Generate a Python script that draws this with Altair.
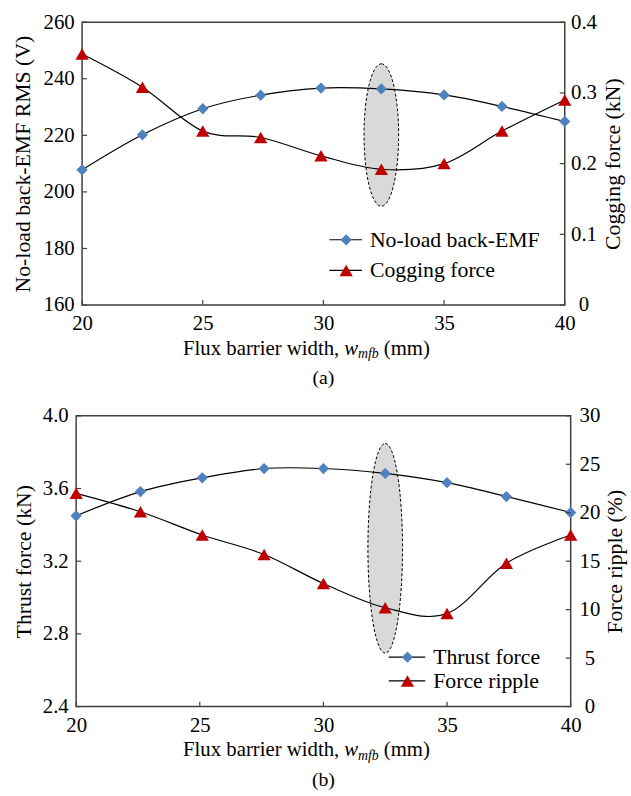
import altair as alt
import pandas as pd

# ---------------- data ----------------
x_a = [20, 22.5, 25, 27.4, 29.9, 32.4, 35, 37.4, 40]
emf = [207.8, 220.2, 229.4, 234.2, 236.7, 236.4, 234.3, 230.2, 224.9]
cogging = [0.355, 0.308, 0.246, 0.237, 0.211, 0.192, 0.200, 0.246, 0.290]

x_b = [20, 22.6, 25.1, 27.6, 30, 32.5, 35, 37.4, 40]
thrust = [3.450, 3.583, 3.659, 3.710, 3.710, 3.683, 3.632, 3.556, 3.468]
ripple = [22.0, 20.1, 17.7, 15.7, 12.7, 10.2, 9.6, 14.8, 17.7]

x_ticks = [20, 25, 30, 35, 40]
emf_ticks = [160, 180, 200, 220, 240, 260]
cog_ticks = [0, 0.1, 0.2, 0.3, 0.4]
thrust_ticks = [2.4, 2.8, 3.2, 3.6, 4.0]
ripple_ticks = [0, 5, 10, 15, 20, 25, 30]

names_a = ["No-load back-EMF", "Cogging force"]
names_b = ["Thrust force", "Force ripple"]
titles_a = ["No-load back-EMF RMS (V)", "Cogging force (kN)"]
titles_b = ["Thrust force (kN)", "Force ripple (%)"]
xtitle_parts = ["Flux barrier width,", "w", "mfb", "(mm)"]
tags = ["(a)", "(b)"]

# highlighted region (ellipse centre, data units)
ell_a = [32.4, 220.1]
ell_b = [32.5, 3.271]

# ---------------- style ----------------
FONT = "Liberation Serif"
BLUE = "#4F81BD"
RED = "#C00000"
AXC = "#404040"
one = pd.DataFrame({"k": [0]})


def ellipse_path(a):
    k = 0.5523
    return (f"M0,-1 C{k*a:.4f},-1 {a:.4f},{-k:.4f} {a:.4f},0 "
            f"C{a:.4f},{k:.4f} {k*a:.4f},1 0,1 "
            f"C{-k*a:.4f},1 {-a:.4f},{k:.4f} {-a:.4f},0 "
            f"C{-a:.4f},{-k:.4f} {-k*a:.4f},-1 0,-1 Z")


def txt(x, y, s, size=21, align="left", style="normal", baseline="alphabetic"):
    return alt.Chart(one).mark_text(
        font=FONT, fontSize=size, align=align, baseline=baseline,
        fontStyle=style, color="black"
    ).encode(x=alt.value(x), y=alt.value(y), text=alt.value(s))


def panel(xs, lv, rv, ldom, rdom, lt, rt, lfmt, rfmt, titles, names, ell,
          ell_w, ell_h, W, H, tag, leg, ltx, rtx, xw):
    df = pd.DataFrame({"x": xs, "L": lv, "R": rv})
    xs_ = alt.Scale(domain=[20, 40], nice=False, zero=False)
    ls = alt.Scale(domain=ldom, nice=False, zero=False)
    rs = alt.Scale(domain=rdom, nice=False, zero=False)
    Xn = alt.X("x:Q", scale=xs_)

    x_axis = alt.Axis(values=x_ticks, title=None, labelPadding=8, labelFlush=False, format="d")
    l_axis = alt.Axis(values=lt, format=lfmt, title=titles[0], labelPadding=8,
                      titleAngle=270, titleX=ltx, titleY=H / 2, titleAlign="center",
                      titleBaseline="middle")
    r_axis = alt.Axis(orient="right", values=rt, format=rfmt, title=titles[1],
                      labelAlign="center", labelPadding=19,
                      titleAngle=270, titleX=rtx, titleY=H / 2, titleAlign="center",
                      titleBaseline="middle")

    base = alt.Chart(df)
    ell_df = pd.DataFrame({"x": [ell[0]], "L": [ell[1]]})
    ellipse = alt.Chart(ell_df).mark_point(
        shape=ellipse_path(ell_w / ell_h), size=ell_h ** 2, filled=True,
        fill="#d9d9d9", stroke="black", strokeWidth=1, strokeDash=[3, 2], opacity=1
    ).encode(x=alt.X("x:Q", scale=xs_, axis=x_axis),
             y=alt.Y("L:Q", scale=ls, axis=l_axis))

    l_line = base.mark_line(color="black", strokeWidth=1.2, interpolate="cardinal").encode(
        x=Xn, y=alt.Y("L:Q", scale=ls))
    l_pts = base.mark_point(shape="diamond", filled=True, color=BLUE, size=130, opacity=1).encode(
        x=Xn, y=alt.Y("L:Q", scale=ls))

    lt_df = pd.DataFrame({"v": lt})
    l_ticks = alt.Chart(lt_df).mark_rule(color=AXC, strokeWidth=1.2).encode(
        y=alt.Y("v:Q", scale=ls), x=alt.value(0), x2=alt.value(5))
    xt_df = pd.DataFrame({"x": x_ticks})
    x_tk = alt.Chart(xt_df).mark_rule(color=AXC, strokeWidth=1.2).encode(
        x=Xn, y=alt.value(H), y2=alt.value(H - 5))

    # x-axis title with italic subscript
    fs, fsub = 21, 14
    yb = H + 50
    xt = [
        txt(xw - 5, yb, xtitle_parts[0], fs, align="right"),
        txt(xw, yb, xtitle_parts[1], fs, style="italic"),
        txt(xw + 14, yb + 4, xtitle_parts[2], fsub, style="italic"),
        txt(xw + 14 + 21 + 5, yb, xtitle_parts[3], fs),
        txt(W / 2, H + 80, tag, 20, align="center"),
    ]

    # legend
    lx1, lx2, lxm, ltxt, ly1, ly2 = leg
    legend = []
    for yy, shp, col, sz, nm in [(ly1, "diamond", BLUE, 130, names[0]),
                                 (ly2, "triangle-up", RED, 180, names[1])]:
        legend.append(alt.Chart(one).mark_rule(color="black", strokeWidth=1.2).encode(
            x=alt.value(lx1), x2=alt.value(lx2), y=alt.value(yy)))
        legend.append(alt.Chart(one).mark_point(shape=shp, filled=True, color=col, size=sz,
                                                opacity=1).encode(
            x=alt.value(lxm), y=alt.value(yy)))
        legend.append(txt(ltxt, yy, nm, 22, baseline="middle"))

    left = alt.layer(ellipse, l_line, l_pts, l_ticks, x_tk, *xt, *legend)

    r_line = base.mark_line(color="black", strokeWidth=1.2, interpolate="cardinal").encode(
        x=Xn, y=alt.Y("R:Q", scale=rs, axis=r_axis))
    r_pts = base.mark_point(shape="triangle-up", filled=True, color=RED, size=180, opacity=1).encode(
        x=Xn, y=alt.Y("R:Q", scale=rs))
    rt_df = pd.DataFrame({"v": rt})
    r_ticks = alt.Chart(rt_df).mark_rule(color=AXC, strokeWidth=1.2).encode(
        y=alt.Y("v:Q", scale=rs), x=alt.value(W - 5), x2=alt.value(W))
    right = alt.layer(r_line, r_ticks, r_pts)

    return alt.layer(left, right).resolve_scale(y="independent").properties(width=W, height=H)


top = panel(x_a, emf, cogging, [160, 260], [0, 0.4], emf_ticks, cog_ticks, "d", "~g",
            titles_a, names_a, ell_a, 35, 144, 488, 286, tags[0],
            (250, 283, 267, 291, 220, 251), -60, 48, 265)
bottom = panel(x_b, thrust, ripple, [2.4, 4.0], [0, 30], thrust_ticks, ripple_ticks, ".1f", "d",
               titles_b, names_b, ell_b, 35, 212, 500, 294, tags[1],
               (316, 353, 335, 361, 244, 268), -53, 44, 271)

chart = alt.vconcat(top, bottom, spacing=112, center=True, bounds="flush").properties(
    padding={"left": 11, "top": 6, "right": 5, "bottom": 5}
).configure_axis(
    labelFont=FONT, titleFont=FONT, labelFontSize=21, titleFontSize=22,
    titleFontWeight="normal", labelColor="black", titleColor="black",
    grid=False, ticks=False, tickSize=0, domain=False
).configure_view(stroke=AXC, strokeWidth=1.5)

chart.save("out.html", embed_options={"renderer": "svg", "actions": False})
